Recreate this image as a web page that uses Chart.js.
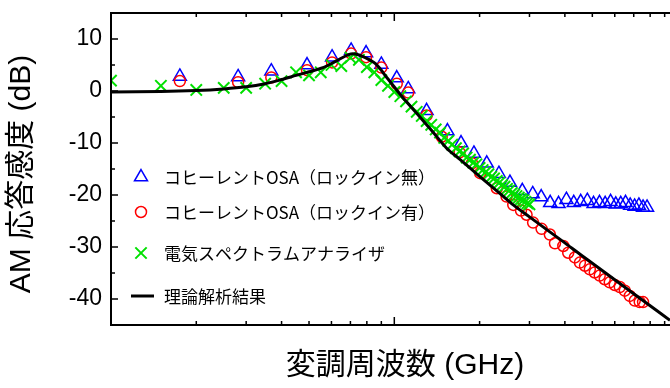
<!DOCTYPE html>
<html>
<head>
<meta charset="utf-8">
<script src="https://cdn.jsdelivr.net/npm/chart.js@4.4.0/dist/chart.umd.min.js"></script>
<style>
html, body { margin: 0; padding: 0; background: #fff; }
</style>
</head>
<body>
<canvas id="chart" width="670" height="388"></canvas>
<script>
// coherent OSA, lock-in off (blue triangles)
const freqBlue = [1.75, 2.81, 3.68, 4.92, 6.03, 7.04, 7.95, 9.0, 10.2, 11.2, 13.0, 15.4, 17.2, 19.1, 21.2, 23.4, 25.6, 28.3,
  30.8, 33.0, 35.5, 38.0, 40.5, 43.0, 45.5, 48.0, 50.5, 53.0, 55.5, 58.0, 60.5, 63.0, 65.5, 68.0, 70.5, 73.0, 75.5, 78.0];
const dbBlue = [2.8, 2.7, 3.8, 5.0, 6.5, 7.8, 7.3, 5.1, 2.5, 0.4, -3.8, -7.7, -10.0, -12.0, -13.9, -15.9, -17.6, -19.2,
  -19.8, -20.4, -21.5, -21.7, -20.9, -21.5, -21.3, -21.1, -21.7, -21.5, -21.7, -21.3, -21.8, -21.7, -21.5, -22.0, -22.2, -22.0, -22.4, -22.4];

// coherent OSA, lock-in on (red circles)
const freqRed = [1.75, 2.81, 3.68, 4.92, 6.03, 7.04, 7.95, 9.0, 10.2, 11.2, 13.0, 14.7, 17.0, 18.8, 20.1, 23.0, 24.9, 26.3,
  28.0, 29.3, 30.9, 33.1, 35.4, 36.9, 39.5, 41.1, 43.4, 45.2, 47.1, 49.0, 51.0, 53.1, 55.3, 57.6, 60.0, 62.5, 65.1, 67.8, 70.6, 73.5, 75.5];
const dbRed = [1.9, 1.7, 2.6, 4.0, 5.5, 7.2, 6.5, 4.5, 1.4, -0.3, -4.7, -8.8, -11.8, -13.9, -15.8, -18.7, -20.3, -21.9,
  -23.0, -23.8, -25.3, -26.5, -27.6, -29.3, -29.8, -31.1, -32.0, -33.0, -33.6, -34.3, -34.9, -35.5, -36.2, -36.8, -37.3, -37.7, -38.4, -39.4, -40.3, -40.6, -40.6];

// electrical spectrum analyzer (green crosses)
const freqGreen = [1.0, 1.5, 2.0, 2.5, 3.0, 3.5, 4.0, 4.5, 5.0, 5.5, 6.0, 6.5, 7.0, 7.5, 8.0, 8.5, 9.0, 9.5,
  10.0, 10.5, 11.0, 11.5, 12.0, 12.5, 13.0, 13.5, 14.0, 14.5, 15.0, 15.5, 16.0, 16.5, 17.0, 17.5, 18.0, 18.5, 19.0, 19.5,
  20.0, 20.5, 21.0, 21.5, 22.0, 22.5, 23.0, 23.5, 24.0, 24.5, 25.0, 25.5, 26.0, 26.5, 27.0, 27.5, 28.0, 28.5, 29.0, 29.5, 30.0];
const dbGreen = [2.0, 1.0, 0.2, 0.6, 0.6, 1.4, 1.9, 3.6, 3.0, 3.6, 5.0, 4.8, 6.4, 6.0, 4.6, 3.6, 2.1, 1.0,
  -0.2, -1.0, -2.0, -3.0, -4.0, -4.8, -5.8, -6.5, -7.4, -8.0, -9.0, -9.6, -10.3, -11.0, -11.6, -12.0, -12.8, -13.2, -13.8, -14.1,
  -14.8, -15.2, -15.6, -16.0, -16.5, -16.8, -17.3, -17.6, -18.1, -18.4, -18.8, -19.1, -19.6, -19.9, -20.2, -20.5, -20.8, -21.0, -21.3, -21.6, -21.8];

// theoretical curve (black line)
const freqTheory = [1, 1.5, 2, 2.5, 3, 3.5, 4, 4.5, 5, 5.6, 6.2, 6.9, 7.3, 7.9, 8.6, 9.5, 10.7, 12, 13.5, 15.3, 17, 20, 23, 26,
  30, 35, 40, 45, 50, 60, 70, 80, 94];
const dbTheory = [-0.2, -0.1, 0.1, 0.4, 0.8, 1.4, 2.2, 3.0, 3.7, 4.5, 5.7, 7.0, 7.1, 6.4, 5.2, 2.3, -1.2, -4.3, -7.5, -11.0, -13.1, -16.4, -19.2, -21.7,
  -24.2, -26.9, -29.2, -31.3, -33.1, -36.3, -39.0, -41.3, -44.1];

const legendLabels = ['コヒーレントOSA（ロックイン無）', 'コヒーレントOSA（ロックイン有）', '電気スペクトラムアナライザ', '理論解析結果'];
const yTickValues = [-40, -30, -20, -10, 0, 10];
const yMinorTicks = [-35, -25, -15, -5, 5];
const xMajorTicks = [10];
const xMinorTicks = [2, 3, 4, 5, 6, 7, 8, 9, 20, 30, 40, 50, 60, 70, 80, 90];

const pairs = (xs, ys) => xs.map((v, i) => ({x: v, y: ys[i]}));
const GREEN = '#00e000';
const cjk = '"Noto Sans CJK JP", sans-serif';
const narrow = '"Liberation Sans Narrow", "Liberation Sans", "Noto Sans CJK JP", sans-serif';

const frame = {
    id: 'frame',
    afterDatasetsDraw(chart) {
        const {ctx, chartArea: a, scales: {x, y}} = chart;
        ctx.save();
        ctx.strokeStyle = '#000';
        ctx.lineWidth = 2;
        ctx.beginPath();
        ctx.moveTo(a.right, a.top);
        ctx.lineTo(a.left, a.top);
        ctx.lineTo(a.left, a.bottom);
        ctx.lineTo(a.right, a.bottom);
        ctx.stroke();
        ctx.lineWidth = 1.5;
        ctx.beginPath();
        const xt = (v, len) => {
            const px = x.getPixelForValue(v);
            ctx.moveTo(px, a.bottom); ctx.lineTo(px, a.bottom - len);
            ctx.moveTo(px, a.top); ctx.lineTo(px, a.top + len);
        };
        const yt = (v, len) => {
            const py = y.getPixelForValue(v);
            ctx.moveTo(a.left, py); ctx.lineTo(a.left + len, py);
        };
        xMinorTicks.forEach(v => xt(v, 4));
        xMajorTicks.forEach(v => xt(v, 8));
        yMinorTicks.forEach(v => yt(v, 4));
        yTickValues.forEach(v => yt(v, 7));
        ctx.stroke();
        ctx.restore();
    },
    afterDraw(chart) {
        const {ctx, chartArea: a} = chart;
        ctx.save();
        ctx.fillStyle = '#000';
        // axis titles
        ctx.font = '30px ' + narrow;
        ctx.textAlign = 'center';
        ctx.textBaseline = 'middle';
        ctx.fillText('変調周波数 (GHz)', 405, 366);
        ctx.translate(22, (a.top + a.bottom) / 2 + 5);
        ctx.rotate(-Math.PI / 2);
        ctx.fillText('AM 応答感度 (dB)', 0, 0);
        ctx.restore();

        // legend
        ctx.save();
        const rows = [177, 212, 253, 296];
        const mx = a.left + 30;
        chart.data.datasets.slice().sort((p, q) => p.legendIndex - q.legendIndex).forEach((ds, i) => {
            const yy = rows[i];
            ctx.strokeStyle = ds.borderColor;
            ctx.fillStyle = 'rgba(0,0,0,0)';
            if (ds.pointRadius === 0) {
                ctx.lineWidth = 3;
                ctx.beginPath();
                ctx.moveTo(mx - 10, yy); ctx.lineTo(mx + 13, yy);
                ctx.stroke();
            } else {
                ctx.lineWidth = ds.borderWidth;
                Chart.helpers.drawPoint(ctx, {pointStyle: ds.pointStyle, radius: ds.pointRadius, rotation: 0, borderWidth: ds.borderWidth}, mx, yy);
            }
            ctx.fillStyle = '#000';
            ctx.font = '17px ' + cjk;
            ctx.textAlign = 'left';
            ctx.textBaseline = 'middle';
            ctx.fillText(ds.label, a.left + 53, yy + 1);
        });
        ctx.restore();
    }
};

new Chart(document.getElementById('chart').getContext('2d'), {
    type: 'line',
    data: {
        datasets: [{
            label: legendLabels[3],
            legendIndex: 3,
            data: pairs(freqTheory, dbTheory),
            borderColor: '#000',
            borderWidth: 3,
            pointRadius: 0,
            tension: 0.3,
            order: 1
        }, {
            label: legendLabels[2],
            legendIndex: 2,
            data: pairs(freqGreen, dbGreen),
            showLine: false,
            pointStyle: 'crossRot',
            pointRadius: 8,
            borderWidth: 2,
            borderColor: GREEN,
            backgroundColor: GREEN,
            clip: 0,
            order: 2
        }, {
            label: legendLabels[1],
            legendIndex: 1,
            data: pairs(freqRed, dbRed),
            showLine: false,
            pointStyle: 'circle',
            pointRadius: 5.5,
            borderWidth: 1.5,
            borderColor: '#ff0000',
            backgroundColor: 'rgba(0,0,0,0)',
            order: 3
        }, {
            label: legendLabels[0],
            legendIndex: 0,
            data: pairs(freqBlue, dbBlue),
            showLine: false,
            pointStyle: 'triangle',
            pointRadius: 7.5,
            borderWidth: 1.5,
            borderColor: '#0000ff',
            backgroundColor: 'rgba(0,0,0,0)',
            order: 4
        }]
    },
    options: {
        responsive: false,
        animation: false,
        layout: {autoPadding: false, padding: {top: 13, right: 0, bottom: 63, left: 0}},
        plugins: {legend: {display: false}, tooltip: {enabled: false}},
        scales: {
            x: {
                type: 'logarithmic',
                min: 1,
                max: 94,
                display: false,
                ticks: {display: false}
            },
            y: {
                min: -45,
                max: 15,
                afterBuildTicks: s => { s.ticks = yTickValues.map(v => ({value: v})); },
                afterFit: s => { s.width = 111; s.paddingTop = 0; s.paddingBottom = 0; },
                grid: {display: false, drawTicks: false},
                border: {display: false},
                ticks: {
                    padding: 9,
                    color: '#000',
                    font: {size: 23, family: narrow}
                }
            }
        }
    },
    plugins: [frame]
});
</script>
</body>
</html>
